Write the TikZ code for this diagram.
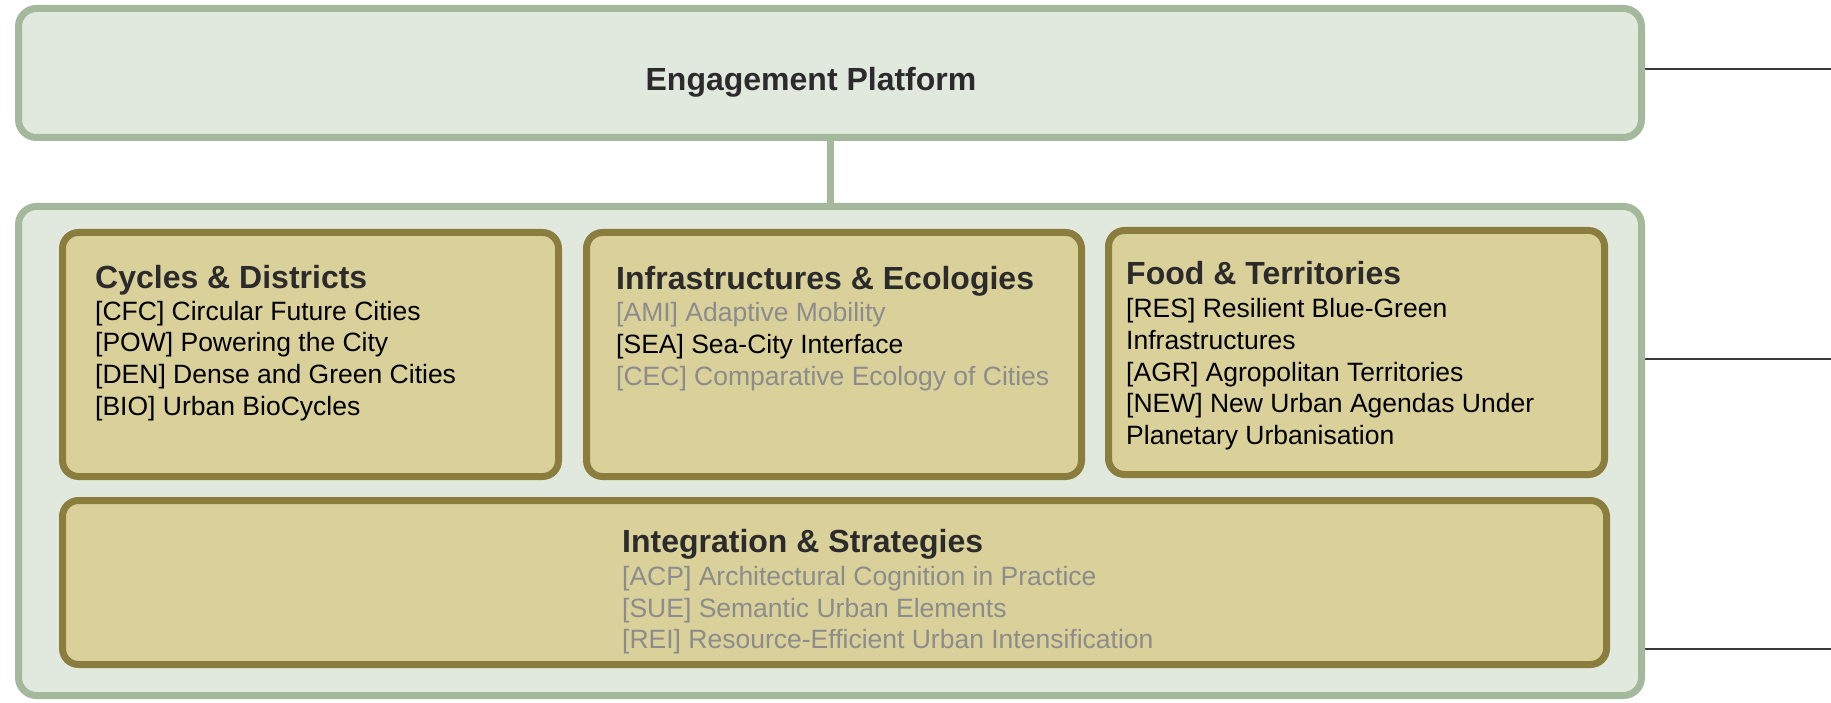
\documentclass[tikz,border=0pt]{standalone}
\usepackage{fontspec}
\setmainfont{Liberation Sans}
\definecolor{gborder}{HTML}{A4B89C}
\definecolor{gfill}{HTML}{E1E8DD}
\definecolor{oborder}{HTML}{8B7D3D}
\definecolor{ofill}{HTML}{D9D09A}
\definecolor{ttl}{HTML}{2B2B2B}
\definecolor{dim}{HTML}{8C8C8C}
\definecolor{rl}{HTML}{3A3A3A}
\begin{document}
\begin{tikzpicture}[x=1pt,y=-1pt,
  gbox/.style={draw=gborder,fill=gfill,line width=7pt,rounded corners=18pt,inner sep=0pt,outer sep=0pt},
  obox/.style={draw=oborder,fill=ofill,line width=7pt,rounded corners=16pt,inner sep=0pt,outer sep=0pt},
  conn/.style={draw=gborder,line width=7pt},
  rline/.style={draw=rl,line width=1.4pt},
  ttltxt/.style={anchor=base west,inner sep=0pt,text=ttl,font=\fontsize{32}{38}\selectfont\bfseries},
  bodytxt/.style={anchor=base west,inner sep=0pt,text=black,font=\fontsize{26.5}{32}\selectfont},
  dimtxt/.style={anchor=base west,inner sep=0pt,text=dim,font=\fontsize{26.5}{32}\selectfont}
]
\useasboundingbox (0,0) rectangle (1831,703);
\fill[white] (0,0) rectangle (1831,703);

% right lines
\coordinate (r1) at (1831,69);
\coordinate (r2) at (1831,359);
\coordinate (r3) at (1831,649);
\coordinate (l1) at (1644,69);
\coordinate (l2) at (1644,359);
\coordinate (l3) at (1644,649);
\draw[rline] (l1) -- (r1);
\draw[rline] (l2) -- (r2);
\draw[rline] (l3) -- (r3);

% main boxes
\node[gbox,minimum width=1623pt,minimum height=129pt] (ep) at (830,73) {};
\node[gbox,minimum width=1623pt,minimum height=489pt] (outer) at (830,451) {};
\draw[conn] (ep.south) -- (outer.north);

\node[ttltxt,anchor=base] (eptxt) at (811,91) {Engagement Platform};

% inner boxes
\node[obox,minimum width=496pt,minimum height=244pt] (cyc) at (310.5,354.5) {};
\node[obox,minimum width=495pt,minimum height=244pt] (inf) at (834,354.5) {};
\node[obox,minimum width=496pt,minimum height=244pt] (food) at (1356.5,352.5) {};
\node[obox,minimum width=1544pt,minimum height=164pt] (integ) at (834.5,582.5) {};

% Cycles & Districts
\node[ttltxt] (c0) at (95,289) {Cycles \& Districts};
\node[bodytxt] (c1) at (95,320) {[CFC] Circular Future Cities};
\node[bodytxt] (c2) at (95,352) {[POW] Powering the City};
\node[bodytxt] (c3) at (95,383) {[DEN] Dense and Green Cities};
\node[bodytxt] (c4) at (95,415) {[BIO] Urban BioCycles};

% Infrastructures & Ecologies
\node[ttltxt] (i0) at (616,290) {Infrastructures \& Ecologies};
\node[dimtxt] (i1) at (616,321) {[AMI] Adaptive Mobility};
\node[bodytxt] (i2) at (616,353) {[SEA] Sea-City Interface};
\node[dimtxt] (i3) at (616,385) {[CEC] Comparative Ecology of Cities};

% Food & Territories
\node[ttltxt] (f0) at (1126,285) {Food \& Territories};
\node[bodytxt] (f1) at (1126,317) {[RES] Resilient Blue-Green};
\node[bodytxt] (f2) at (1126,349) {Infrastructures};
\node[bodytxt] (f3) at (1126,381) {[AGR] Agropolitan Territories};
\node[bodytxt] (f4) at (1126,412) {[NEW] New Urban Agendas Under};
\node[bodytxt] (f5) at (1126,444) {Planetary Urbanisation};

% Integration & Strategies
\node[ttltxt] (s0) at (622,552) {Integration \& Strategies};
\node[dimtxt] (s1) at (622,585) {[ACP] Architectural Cognition in Practice};
\node[dimtxt] (s2) at (622,617) {[SUE] Semantic Urban Elements};
\node[dimtxt] (s3) at (622,648) {[REI] Resource-Efficient Urban Intensification};
\end{tikzpicture}
\end{document}
